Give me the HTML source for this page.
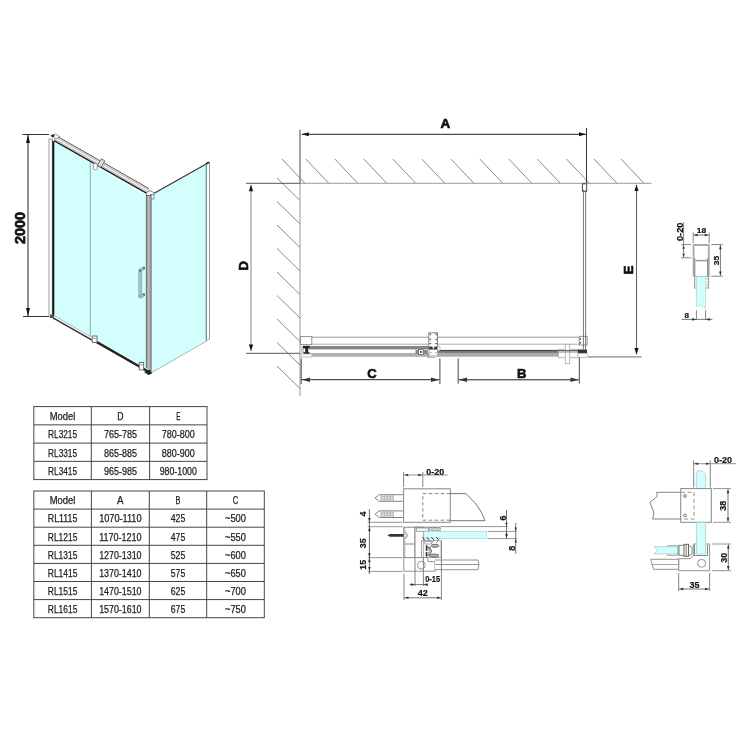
<!DOCTYPE html>
<html><head><meta charset="utf-8"><style>
html,body{margin:0;padding:0;background:#fff;width:750px;height:750px;overflow:hidden}
svg{display:block;will-change:transform}
</style></head><body>
<svg width="750" height="750" viewBox="0 0 750 750">
<rect width="750" height="750" fill="#fff"/>
<line x1="22.5" y1="134.5" x2="49" y2="134.5" stroke="#333" stroke-width="1" />
<line x1="23" y1="316.5" x2="50" y2="316.5" stroke="#333" stroke-width="1" />
<line x1="28" y1="135" x2="28" y2="316" stroke="#222" stroke-width="1" />
<path d="M28.00,135.00 L30.00,143.00 L26.00,143.00 Z" fill="#111"/>
<path d="M28.00,316.00 L26.00,308.00 L30.00,308.00 Z" fill="#111"/>
<text x="19.5" y="228" font-family="Liberation Sans" font-size="15" font-weight="bold" text-anchor="middle" dominant-baseline="central" fill="#111" stroke="#111" stroke-width="0.75" transform="rotate(-90 19.5 228)" textLength="32" lengthAdjust="spacingAndGlyphs">2000</text>
<polygon points="53,139 148,194 148,371 53,315.5" fill="#d2fefe"/>
<polygon points="151,195 207,163.2 207,340 151,373" fill="#d2fefe"/>
<line x1="152" y1="194.6" x2="207.5" y2="163.2" stroke="#333" stroke-width="1.1" />
<line x1="151" y1="373" x2="207" y2="340.8" stroke="#8aa" stroke-width="0.8" />
<rect x="206.3" y="162.5" width="3.2" height="178" fill="#fff"/>
<line x1="206.3" y1="163" x2="206.3" y2="340.6" stroke="#6a8c8c" stroke-width="1.2" />
<line x1="209.5" y1="162.5" x2="209.5" y2="339.2" stroke="#999" stroke-width="1" />
<line x1="206.3" y1="340.6" x2="209.7" y2="339" stroke="#999" stroke-width="0.9" />
<polygon points="205.5,163.2 208.2,161.5 210,162.6 207.3,164.5" fill="#333"/>
<rect x="49" y="139" width="3.2" height="177.5" fill="#fff" stroke="#888" stroke-width="0.8"/>
<line x1="53.3" y1="137.5" x2="53.3" y2="317" stroke="#111" stroke-width="2" />
<line x1="90.3" y1="161" x2="90.3" y2="338" stroke="#8ab0b0" stroke-width="1" />
<polygon points="51,135.5 54.5,133.5 153.5,189.8 152,196 146,195.5 53,141" fill="#fff"/>
<line x1="54" y1="134.47" x2="149" y2="188.62" stroke="#555" stroke-width="1.0" />
<line x1="54" y1="136.17" x2="149" y2="190.32" stroke="#c4c4c4" stroke-width="1.4" />
<line x1="54" y1="138.77" x2="149" y2="192.92" stroke="#999" stroke-width="0.8" />
<line x1="54" y1="140.57" x2="149" y2="194.72" stroke="#222" stroke-width="1.5" />
<polygon points="52,136 55.5,134 59.5,136.5 56,139" fill="#fff" stroke="#666" stroke-width="0.7"/>
<polygon points="50.5,135.8 52.8,134.2 55,135.8 52.8,137.6" fill="#222"/>
<polygon points="146,193 150,190.5 154.5,193 152,196.5 147,196" fill="#fff" stroke="#555" stroke-width="0.7"/>
<rect x="150.6" y="194.5" width="3.3" height="4.5" fill="#fff" stroke="#666" stroke-width="0.7"/>
<polygon points="101.06,167.39 104.82,160.79 101.34,158.81 97.58,165.41" fill="#f4f4f4" stroke="#555" stroke-width="0.8"/>
<line x1="99.5" y1="166.5" x2="103" y2="160" stroke="#aaa" stroke-width="0.8" />
<rect x="93.4" y="163.5" width="3.8" height="6.3" rx="1" fill="#fff" stroke="#777" stroke-width="0.7"/>
<rect x="146.3" y="195.5" width="4.8" height="177" fill="#aaa" stroke="#555" stroke-width="0.8"/>
<line x1="148.7" y1="196" x2="148.7" y2="372" stroke="#bbb" stroke-width="1" />
<rect x="138.8" y="269" width="2.8" height="28.6" rx="1" fill="#a9c8c8" stroke="#7d9d9d" stroke-width="0.7"/>
<polygon points="139,270.2 143.3,267 145,268.6 140.8,271.8" fill="#a9c8c8" stroke="#6d8d8d" stroke-width="0.7"/>
<polygon points="139,296.6 143.3,293.6 145,295.2 140.8,298.2" fill="#a9c8c8" stroke="#6d8d8d" stroke-width="0.7"/>
<circle cx="144" cy="267.9" r="1" fill="#555"/>
<circle cx="144" cy="294.5" r="1" fill="#555"/>
<circle cx="140" cy="270.8" r="0.9" fill="#555"/>
<polygon points="53,315 92,337.2 92,340.5 53,318.3" fill="#fff"/>
<line x1="53.5" y1="315.3" x2="91" y2="337" stroke="#9aa" stroke-width="0.8" />
<line x1="53" y1="317.9" x2="92" y2="340.1" stroke="#333" stroke-width="1.6" />
<rect x="50" y="314.5" width="4" height="3.5" fill="#555"/>
<polygon points="96,339.5 149,369.8 149,373.5 96,343" fill="#fff"/>
<line x1="96" y1="341.6" x2="149" y2="372" stroke="#222" stroke-width="2.4" />
<polygon points="144,372 149.5,369.5 152,373.5 148.5,375" fill="#222"/>
<rect x="92.2" y="336" width="4.8" height="6.5" fill="#fff" stroke="#555" stroke-width="0.8"/>
<line x1="92.5" y1="338.2" x2="96.8" y2="338.2" stroke="#777" stroke-width="0.7" />
<rect x="139.2" y="362.5" width="4.5" height="7.4" fill="#fff" stroke="#555" stroke-width="0.8"/>
<line x1="139.5" y1="364.8" x2="143.5" y2="364.8" stroke="#777" stroke-width="0.7" />
<line x1="300" y1="183.3" x2="651.5" y2="183.3" stroke="#b0b0b0" stroke-width="1.2" />
<line x1="300" y1="130" x2="300" y2="396" stroke="#aaa" stroke-width="1.2" />
<line x1="282" y1="159" x2="305" y2="183.3" stroke="#8a8a8a" stroke-width="1" />
<line x1="305.8" y1="159" x2="328.8" y2="183.3" stroke="#8a8a8a" stroke-width="1" />
<line x1="334.8" y1="159" x2="357.8" y2="183.3" stroke="#8a8a8a" stroke-width="1" />
<line x1="363.8" y1="159" x2="386.8" y2="183.3" stroke="#8a8a8a" stroke-width="1" />
<line x1="392.8" y1="159" x2="415.8" y2="183.3" stroke="#8a8a8a" stroke-width="1" />
<line x1="421.8" y1="159" x2="444.8" y2="183.3" stroke="#8a8a8a" stroke-width="1" />
<line x1="450.9" y1="159" x2="473.9" y2="183.3" stroke="#8a8a8a" stroke-width="1" />
<line x1="479.8" y1="159" x2="502.8" y2="183.3" stroke="#8a8a8a" stroke-width="1" />
<line x1="508.8" y1="159" x2="531.8" y2="183.3" stroke="#8a8a8a" stroke-width="1" />
<line x1="537.3" y1="159" x2="560.3" y2="183.3" stroke="#8a8a8a" stroke-width="1" />
<line x1="566.5" y1="159" x2="589.5" y2="183.3" stroke="#8a8a8a" stroke-width="1" />
<line x1="594" y1="159" x2="617" y2="183.3" stroke="#8a8a8a" stroke-width="1" />
<line x1="621" y1="159" x2="644" y2="183.3" stroke="#8a8a8a" stroke-width="1" />
<line x1="277" y1="178" x2="300" y2="200.5" stroke="#8a8a8a" stroke-width="1" />
<line x1="277" y1="201.5" x2="300" y2="224.0" stroke="#8a8a8a" stroke-width="1" />
<line x1="277" y1="225" x2="300" y2="247.5" stroke="#8a8a8a" stroke-width="1" />
<line x1="277" y1="248.5" x2="300" y2="271.0" stroke="#8a8a8a" stroke-width="1" />
<line x1="277" y1="272" x2="300" y2="294.5" stroke="#8a8a8a" stroke-width="1" />
<line x1="277" y1="295.5" x2="300" y2="318.0" stroke="#8a8a8a" stroke-width="1" />
<line x1="277" y1="319" x2="300" y2="341.5" stroke="#8a8a8a" stroke-width="1" />
<line x1="277" y1="342.5" x2="300" y2="365.0" stroke="#8a8a8a" stroke-width="1" />
<line x1="277" y1="366" x2="300" y2="388.5" stroke="#8a8a8a" stroke-width="1" />
<line x1="300" y1="129.5" x2="300" y2="183" stroke="#8a8a8a" stroke-width="1.3" />
<line x1="586.5" y1="128" x2="586.5" y2="183" stroke="#333" stroke-width="1" />
<line x1="301.8" y1="134.3" x2="586" y2="134.3" stroke="#222" stroke-width="1" />
<path d="M301.80,134.30 L308.80,132.30 L308.80,136.30 Z" fill="#111"/>
<path d="M586.00,134.30 L579.00,136.30 L579.00,132.30 Z" fill="#111"/>
<text x="445.3" y="123.8" font-family="Liberation Sans" font-size="13.5" font-weight="bold" text-anchor="middle" dominant-baseline="central" fill="#111" stroke="#111" stroke-width="0.68">A</text>
<line x1="246" y1="183.3" x2="300" y2="183.3" stroke="#555" stroke-width="1" />
<line x1="246" y1="353.3" x2="300" y2="353.3" stroke="#555" stroke-width="1" />
<line x1="251" y1="184.8" x2="251" y2="351" stroke="#999" stroke-width="1.2" />
<path d="M251.00,184.80 L253.10,191.30 L248.90,191.30 Z" fill="#111"/>
<path d="M251.00,351.00 L248.90,344.50 L253.10,344.50 Z" fill="#111"/>
<text x="243.2" y="265.8" font-family="Liberation Sans" font-size="13" font-weight="bold" text-anchor="middle" dominant-baseline="central" fill="#111" stroke="#111" stroke-width="0.65" transform="rotate(-90 243.2 265.8)">D</text>
<line x1="588" y1="356.8" x2="641.6" y2="356.8" stroke="#888" stroke-width="1.2" />
<line x1="636.5" y1="184.8" x2="636.5" y2="354.4" stroke="#666" stroke-width="1.1" />
<path d="M636.50,184.80 L638.60,191.10 L634.40,191.10 Z" fill="#111"/>
<path d="M636.50,354.40 L634.40,348.10 L638.60,348.10 Z" fill="#111"/>
<text x="628.4" y="269.8" font-family="Liberation Sans" font-size="13" font-weight="bold" text-anchor="middle" dominant-baseline="central" fill="#111" stroke="#111" stroke-width="0.65" transform="rotate(-90 628.4 269.8)">E</text>
<rect x="582.4" y="183.8" width="4.3" height="7.5" fill="#fff" stroke="#333" stroke-width="0.9"/>
<line x1="311" y1="337.2" x2="579.5" y2="337.2" stroke="#999" stroke-width="1" />
<line x1="311" y1="344.2" x2="579.5" y2="344.2" stroke="#aaa" stroke-width="1" />
<rect x="300.5" y="336.6" width="11.3" height="8" fill="#fff" stroke="#888" stroke-width="0.9"/>
<rect x="579.3" y="336.3" width="7.8" height="8.7" fill="#fff" stroke="#888" stroke-width="0.9"/>
<rect x="579.6" y="338" width="1.4" height="1.6" fill="#555"/>
<rect x="579.6" y="342" width="1.4" height="1.6" fill="#555"/>
<rect x="309" y="346" width="120" height="3.4" fill="#858585"/>
<rect x="309" y="353" width="120" height="3.8" fill="#b0b0b0"/>
<rect x="437" y="350.6" width="142" height="6.1" fill="#aaa"/>
<rect x="437" y="351" width="142" height="1.8" fill="#777"/>
<line x1="437" y1="350.4" x2="579" y2="350.4" stroke="#333" stroke-width="1" />
<rect x="301" y="346" width="3" height="7" fill="#ccc"/>
<rect x="303" y="345.8" width="6.5" height="2.6" fill="#222"/>
<rect x="305.2" y="348" width="3" height="5.5" fill="#222"/>
<rect x="303.5" y="352.2" width="6" height="1.8" fill="#222"/>
<rect x="301" y="354" width="11" height="3" fill="#fff" stroke="#aaa" stroke-width="0.8"/>
<rect x="428.8" y="332.8" width="8.8" height="16" fill="#fff" stroke="#777" stroke-width="0.9"/>
<path d="M429.0,333.8 L431.4,333.8 L430.2,335.6 Z" fill="#555"/>
<path d="M435.0,333.8 L437.4,333.8 L436.2,335.6 Z" fill="#555"/>
<path d="M429.0,338.7 L431.4,338.7 L430.2,340.5 Z" fill="#555"/>
<path d="M435.0,338.7 L437.4,338.7 L436.2,340.5 Z" fill="#555"/>
<path d="M429.0,343.0 L431.4,343.0 L430.2,344.8 Z" fill="#555"/>
<path d="M435.0,343.0 L437.4,343.0 L436.2,344.8 Z" fill="#555"/>
<rect x="429.2" y="346.6" width="3.4" height="3" fill="#333"/>
<rect x="434.2" y="346.6" width="3.4" height="3" fill="#333"/>
<rect x="429" y="349.5" width="8.8" height="6.5" fill="#fff" stroke="#888" stroke-width="0.8"/>
<rect x="430.3" y="352" width="1.2" height="1.2" fill="#999"/>
<rect x="435.2" y="352" width="1.2" height="1.2" fill="#999"/>
<path d="M427.5,350 L427.5,357.5 L435,357.5" fill="none" stroke="#999" stroke-width="0.8"/>
<rect x="437.5" y="346.6" width="2.5" height="4" fill="#fff" stroke="#999" stroke-width="0.6"/>
<rect x="415.5" y="350" width="12" height="4" fill="#888"/>
<rect x="418.5" y="349.6" width="4.6" height="4.8" fill="#fff" stroke="#666" stroke-width="0.8"/>
<rect x="420" y="351.2" width="1.6" height="1.6" fill="#222"/>
<rect x="558.3" y="349.3" width="19.7" height="8.4" fill="#fff" stroke="#aaa" stroke-width="0.8"/>
<rect x="565.3" y="344.3" width="4.4" height="19.4" fill="#fff" stroke="#aaa" stroke-width="0.8"/>
<line x1="558.3" y1="350.6" x2="578" y2="350.6" stroke="#555" stroke-width="1" />
<line x1="558.3" y1="352" x2="578" y2="352" stroke="#888" stroke-width="1" />
<line x1="583.4" y1="190" x2="583.4" y2="349" stroke="#666" stroke-width="0.9" />
<line x1="585.6" y1="190" x2="585.6" y2="349" stroke="#666" stroke-width="0.9" />
<rect x="578" y="349.5" width="9" height="3.8" fill="#333"/>
<rect x="578" y="353.3" width="9" height="4" fill="#fff" stroke="#aaa" stroke-width="0.7"/>
<line x1="301.2" y1="358.5" x2="301.2" y2="384" stroke="#444" stroke-width="1" />
<line x1="439.9" y1="358.5" x2="439.9" y2="384" stroke="#444" stroke-width="1" />
<line x1="302" y1="379.7" x2="439" y2="379.7" stroke="#222" stroke-width="1" />
<path d="M302.00,379.70 L310.00,377.50 L310.00,381.90 Z" fill="#333"/>
<path d="M439.00,379.70 L431.00,381.90 L431.00,377.50 Z" fill="#333"/>
<text x="372" y="373.2" font-family="Liberation Sans" font-size="13" font-weight="bold" text-anchor="middle" dominant-baseline="central" fill="#111" stroke="#111" stroke-width="0.65">C</text>
<line x1="458.2" y1="358.5" x2="458.2" y2="383.6" stroke="#444" stroke-width="1" />
<line x1="579.3" y1="357.5" x2="579.3" y2="383.6" stroke="#444" stroke-width="1" />
<line x1="459" y1="379.8" x2="578.5" y2="379.8" stroke="#222" stroke-width="1" />
<path d="M459.00,379.80 L467.00,377.60 L467.00,382.00 Z" fill="#333"/>
<path d="M578.50,379.80 L570.50,382.00 L570.50,377.60 Z" fill="#333"/>
<text x="521.7" y="373" font-family="Liberation Sans" font-size="13" font-weight="bold" text-anchor="middle" dominant-baseline="central" fill="#111" stroke="#111" stroke-width="0.65">B</text>
<path d="M693.6,276.5 L693.6,245 L708.8,245 L708.8,276.5" fill="none" stroke="#aaa" stroke-width="1.8"/>
<line x1="694.8" y1="258" x2="694.8" y2="276" stroke="#777" stroke-width="0.9" />
<line x1="707.6" y1="258" x2="707.6" y2="276" stroke="#777" stroke-width="0.9" />
<line x1="695.5" y1="260.6" x2="707" y2="260.6" stroke="#999" stroke-width="1.5" />
<rect x="694.6" y="276.4" width="14" height="11.6" fill="#fff" stroke="#999" stroke-width="1"/>
<line x1="695.5" y1="279" x2="697" y2="279" stroke="#aaa" stroke-width="1" />
<line x1="706.5" y1="279" x2="708" y2="279" stroke="#aaa" stroke-width="1" />
<line x1="695.5" y1="282" x2="697" y2="282" stroke="#aaa" stroke-width="1" />
<line x1="706.5" y1="282" x2="708" y2="282" stroke="#aaa" stroke-width="1" />
<line x1="695.5" y1="285" x2="697" y2="285" stroke="#aaa" stroke-width="1" />
<line x1="706.5" y1="285" x2="708" y2="285" stroke="#aaa" stroke-width="1" />
<polygon points="696.4,276.6 705.6,276.6 705.6,308.2 700.2,304.9 696.4,306.6" fill="#d2fefe" stroke="#a0cccc" stroke-width="0.6"/>
<line x1="693.2" y1="232.5" x2="693.2" y2="243.2" stroke="#777" stroke-width="0.9" />
<line x1="709.2" y1="232.5" x2="709.2" y2="243.2" stroke="#777" stroke-width="0.9" />
<line x1="693.7" y1="235" x2="708.7" y2="235" stroke="#666" stroke-width="0.9" />
<path d="M693.70,235.00 L697.70,233.70 L697.70,236.30 Z" fill="#333"/>
<path d="M708.70,235.00 L704.70,236.30 L704.70,233.70 Z" fill="#333"/>
<text x="701.6" y="230.6" font-family="Liberation Sans" font-size="8" font-weight="bold" text-anchor="middle" dominant-baseline="central" fill="#111" stroke="#111" stroke-width="0.16" textLength="9.5" lengthAdjust="spacingAndGlyphs">18</text>
<line x1="711.2" y1="244.6" x2="722.8" y2="244.6" stroke="#777" stroke-width="0.9" />
<line x1="711.2" y1="276.2" x2="722.8" y2="276.2" stroke="#777" stroke-width="0.9" />
<line x1="720.4" y1="245.2" x2="720.4" y2="275.6" stroke="#666" stroke-width="0.9" />
<path d="M720.40,245.20 L721.70,249.20 L719.10,249.20 Z" fill="#333"/>
<path d="M720.40,275.60 L719.10,271.60 L721.70,271.60 Z" fill="#333"/>
<text x="716.4" y="260.6" font-family="Liberation Sans" font-size="8" font-weight="bold" text-anchor="middle" dominant-baseline="central" fill="#111" stroke="#111" stroke-width="0.16" transform="rotate(-90 716.4 260.6)" textLength="9.5" lengthAdjust="spacingAndGlyphs">35</text>
<line x1="681.2" y1="244.6" x2="691.2" y2="244.6" stroke="#777" stroke-width="0.9" />
<line x1="681.2" y1="257.8" x2="691.2" y2="257.8" stroke="#777" stroke-width="0.9" />
<line x1="683.6" y1="222.2" x2="683.6" y2="257.4" stroke="#777" stroke-width="0.9" />
<path d="M683.60,245.20 L684.80,248.70 L682.40,248.70 Z" fill="#333"/>
<path d="M683.60,257.20 L682.40,253.70 L684.80,253.70 Z" fill="#333"/>
<text x="680" y="231.8" font-family="Liberation Sans" font-size="8.3" font-weight="bold" text-anchor="middle" dominant-baseline="central" fill="#111" stroke="#111" stroke-width="0.17" transform="rotate(-90 680 231.8)" textLength="18.5" lengthAdjust="spacingAndGlyphs">0-20</text>
<line x1="696.4" y1="310.2" x2="696.4" y2="320.2" stroke="#777" stroke-width="0.9" />
<line x1="705.6" y1="310.2" x2="705.6" y2="320.2" stroke="#777" stroke-width="0.9" />
<line x1="681.6" y1="319.4" x2="712.4" y2="319.4" stroke="#666" stroke-width="0.9" />
<path d="M696.20,319.40 L692.20,320.70 L692.20,318.10 Z" fill="#333"/>
<path d="M705.80,319.40 L709.80,318.10 L709.80,320.70 Z" fill="#333"/>
<text x="686.8" y="315.4" font-family="Liberation Sans" font-size="8" font-weight="bold" text-anchor="middle" dominant-baseline="central" fill="#111" stroke="#111" stroke-width="0.16" textLength="4.5" lengthAdjust="spacingAndGlyphs">8</text>
<rect x="33.8" y="406.6" width="173.2" height="73.0" fill="none" stroke="#444" stroke-width="1"/>
<line x1="91.3" y1="406.6" x2="91.3" y2="479.6" stroke="#444" stroke-width="1" />
<line x1="149.6" y1="406.6" x2="149.6" y2="479.6" stroke="#444" stroke-width="1" />
<line x1="33.8" y1="424.85" x2="207" y2="424.85" stroke="#444" stroke-width="1" />
<line x1="33.8" y1="443.1" x2="207" y2="443.1" stroke="#444" stroke-width="1" />
<line x1="33.8" y1="461.35" x2="207" y2="461.35" stroke="#444" stroke-width="1" />
<text x="62.55" y="416.52500000000003" font-family="Liberation Sans" font-size="10" font-weight="normal" text-anchor="middle" dominant-baseline="central" fill="#222" stroke="#222" stroke-width="0.25" textLength="25.6" lengthAdjust="spacingAndGlyphs">Model</text>
<text x="120.44999999999999" y="416.52500000000003" font-family="Liberation Sans" font-size="10" font-weight="normal" text-anchor="middle" dominant-baseline="central" fill="#222" stroke="#222" stroke-width="0.25" textLength="6.3" lengthAdjust="spacingAndGlyphs">D</text>
<text x="178.3" y="416.52500000000003" font-family="Liberation Sans" font-size="10" font-weight="normal" text-anchor="middle" dominant-baseline="central" fill="#222" stroke="#222" stroke-width="0.25" textLength="4.2" lengthAdjust="spacingAndGlyphs">E</text>
<text x="62.55" y="434.77500000000003" font-family="Liberation Sans" font-size="10" font-weight="normal" text-anchor="middle" dominant-baseline="central" fill="#222" stroke="#222" stroke-width="0.25" textLength="28.9" lengthAdjust="spacingAndGlyphs">RL3215</text>
<text x="120.44999999999999" y="434.77500000000003" font-family="Liberation Sans" font-size="10" font-weight="normal" text-anchor="middle" dominant-baseline="central" fill="#222" stroke="#222" stroke-width="0.25" textLength="33" lengthAdjust="spacingAndGlyphs">765-785</text>
<text x="178.3" y="434.77500000000003" font-family="Liberation Sans" font-size="10" font-weight="normal" text-anchor="middle" dominant-baseline="central" fill="#222" stroke="#222" stroke-width="0.25" textLength="33" lengthAdjust="spacingAndGlyphs">780-800</text>
<text x="62.55" y="453.02500000000003" font-family="Liberation Sans" font-size="10" font-weight="normal" text-anchor="middle" dominant-baseline="central" fill="#222" stroke="#222" stroke-width="0.25" textLength="28.9" lengthAdjust="spacingAndGlyphs">RL3315</text>
<text x="120.44999999999999" y="453.02500000000003" font-family="Liberation Sans" font-size="10" font-weight="normal" text-anchor="middle" dominant-baseline="central" fill="#222" stroke="#222" stroke-width="0.25" textLength="33" lengthAdjust="spacingAndGlyphs">865-885</text>
<text x="178.3" y="453.02500000000003" font-family="Liberation Sans" font-size="10" font-weight="normal" text-anchor="middle" dominant-baseline="central" fill="#222" stroke="#222" stroke-width="0.25" textLength="33" lengthAdjust="spacingAndGlyphs">880-900</text>
<text x="62.55" y="471.27500000000003" font-family="Liberation Sans" font-size="10" font-weight="normal" text-anchor="middle" dominant-baseline="central" fill="#222" stroke="#222" stroke-width="0.25" textLength="28.9" lengthAdjust="spacingAndGlyphs">RL3415</text>
<text x="120.44999999999999" y="471.27500000000003" font-family="Liberation Sans" font-size="10" font-weight="normal" text-anchor="middle" dominant-baseline="central" fill="#222" stroke="#222" stroke-width="0.25" textLength="33" lengthAdjust="spacingAndGlyphs">965-985</text>
<text x="178.3" y="471.27500000000003" font-family="Liberation Sans" font-size="10" font-weight="normal" text-anchor="middle" dominant-baseline="central" fill="#222" stroke="#222" stroke-width="0.25" textLength="37.2" lengthAdjust="spacingAndGlyphs">980-1000</text>
<rect x="33.8" y="491" width="230.5" height="126.70000000000005" fill="none" stroke="#444" stroke-width="1"/>
<line x1="91.4" y1="491" x2="91.4" y2="617.7" stroke="#444" stroke-width="1" />
<line x1="149.3" y1="491" x2="149.3" y2="617.7" stroke="#444" stroke-width="1" />
<line x1="206.7" y1="491" x2="206.7" y2="617.7" stroke="#444" stroke-width="1" />
<line x1="33.8" y1="509.1" x2="264.3" y2="509.1" stroke="#444" stroke-width="1" />
<line x1="33.8" y1="527.2" x2="264.3" y2="527.2" stroke="#444" stroke-width="1" />
<line x1="33.8" y1="545.3" x2="264.3" y2="545.3" stroke="#444" stroke-width="1" />
<line x1="33.8" y1="563.4" x2="264.3" y2="563.4" stroke="#444" stroke-width="1" />
<line x1="33.8" y1="581.5" x2="264.3" y2="581.5" stroke="#444" stroke-width="1" />
<line x1="33.8" y1="599.6" x2="264.3" y2="599.6" stroke="#444" stroke-width="1" />
<text x="62.6" y="500.85" font-family="Liberation Sans" font-size="10" font-weight="normal" text-anchor="middle" dominant-baseline="central" fill="#222" stroke="#222" stroke-width="0.25" textLength="25.6" lengthAdjust="spacingAndGlyphs">Model</text>
<text x="120.35000000000001" y="500.85" font-family="Liberation Sans" font-size="10" font-weight="normal" text-anchor="middle" dominant-baseline="central" fill="#222" stroke="#222" stroke-width="0.25" textLength="6.5" lengthAdjust="spacingAndGlyphs">A</text>
<text x="178.0" y="500.85" font-family="Liberation Sans" font-size="10" font-weight="normal" text-anchor="middle" dominant-baseline="central" fill="#222" stroke="#222" stroke-width="0.25" textLength="4.8" lengthAdjust="spacingAndGlyphs">B</text>
<text x="235.5" y="500.85" font-family="Liberation Sans" font-size="10" font-weight="normal" text-anchor="middle" dominant-baseline="central" fill="#222" stroke="#222" stroke-width="0.25" textLength="5.5" lengthAdjust="spacingAndGlyphs">C</text>
<text x="62.6" y="518.9499999999999" font-family="Liberation Sans" font-size="10" font-weight="normal" text-anchor="middle" dominant-baseline="central" fill="#222" stroke="#222" stroke-width="0.25" textLength="29.6" lengthAdjust="spacingAndGlyphs">RL1115</text>
<text x="120.35000000000001" y="518.9499999999999" font-family="Liberation Sans" font-size="10" font-weight="normal" text-anchor="middle" dominant-baseline="central" fill="#222" stroke="#222" stroke-width="0.25" textLength="42.4" lengthAdjust="spacingAndGlyphs">1070-1110</text>
<text x="178.0" y="518.9499999999999" font-family="Liberation Sans" font-size="10" font-weight="normal" text-anchor="middle" dominant-baseline="central" fill="#222" stroke="#222" stroke-width="0.25" textLength="14.5" lengthAdjust="spacingAndGlyphs">425</text>
<text x="235.5" y="518.9499999999999" font-family="Liberation Sans" font-size="10" font-weight="normal" text-anchor="middle" dominant-baseline="central" fill="#222" stroke="#222" stroke-width="0.25" textLength="20.9" lengthAdjust="spacingAndGlyphs">~500</text>
<text x="62.6" y="537.05" font-family="Liberation Sans" font-size="10" font-weight="normal" text-anchor="middle" dominant-baseline="central" fill="#222" stroke="#222" stroke-width="0.25" textLength="29.6" lengthAdjust="spacingAndGlyphs">RL1215</text>
<text x="120.35000000000001" y="537.05" font-family="Liberation Sans" font-size="10" font-weight="normal" text-anchor="middle" dominant-baseline="central" fill="#222" stroke="#222" stroke-width="0.25" textLength="42.4" lengthAdjust="spacingAndGlyphs">1170-1210</text>
<text x="178.0" y="537.05" font-family="Liberation Sans" font-size="10" font-weight="normal" text-anchor="middle" dominant-baseline="central" fill="#222" stroke="#222" stroke-width="0.25" textLength="14.5" lengthAdjust="spacingAndGlyphs">475</text>
<text x="235.5" y="537.05" font-family="Liberation Sans" font-size="10" font-weight="normal" text-anchor="middle" dominant-baseline="central" fill="#222" stroke="#222" stroke-width="0.25" textLength="20.9" lengthAdjust="spacingAndGlyphs">~550</text>
<text x="62.6" y="555.1499999999999" font-family="Liberation Sans" font-size="10" font-weight="normal" text-anchor="middle" dominant-baseline="central" fill="#222" stroke="#222" stroke-width="0.25" textLength="29.6" lengthAdjust="spacingAndGlyphs">RL1315</text>
<text x="120.35000000000001" y="555.1499999999999" font-family="Liberation Sans" font-size="10" font-weight="normal" text-anchor="middle" dominant-baseline="central" fill="#222" stroke="#222" stroke-width="0.25" textLength="42.4" lengthAdjust="spacingAndGlyphs">1270-1310</text>
<text x="178.0" y="555.1499999999999" font-family="Liberation Sans" font-size="10" font-weight="normal" text-anchor="middle" dominant-baseline="central" fill="#222" stroke="#222" stroke-width="0.25" textLength="14.5" lengthAdjust="spacingAndGlyphs">525</text>
<text x="235.5" y="555.1499999999999" font-family="Liberation Sans" font-size="10" font-weight="normal" text-anchor="middle" dominant-baseline="central" fill="#222" stroke="#222" stroke-width="0.25" textLength="20.9" lengthAdjust="spacingAndGlyphs">~600</text>
<text x="62.6" y="573.2499999999999" font-family="Liberation Sans" font-size="10" font-weight="normal" text-anchor="middle" dominant-baseline="central" fill="#222" stroke="#222" stroke-width="0.25" textLength="29.6" lengthAdjust="spacingAndGlyphs">RL1415</text>
<text x="120.35000000000001" y="573.2499999999999" font-family="Liberation Sans" font-size="10" font-weight="normal" text-anchor="middle" dominant-baseline="central" fill="#222" stroke="#222" stroke-width="0.25" textLength="42.4" lengthAdjust="spacingAndGlyphs">1370-1410</text>
<text x="178.0" y="573.2499999999999" font-family="Liberation Sans" font-size="10" font-weight="normal" text-anchor="middle" dominant-baseline="central" fill="#222" stroke="#222" stroke-width="0.25" textLength="14.5" lengthAdjust="spacingAndGlyphs">575</text>
<text x="235.5" y="573.2499999999999" font-family="Liberation Sans" font-size="10" font-weight="normal" text-anchor="middle" dominant-baseline="central" fill="#222" stroke="#222" stroke-width="0.25" textLength="20.9" lengthAdjust="spacingAndGlyphs">~650</text>
<text x="62.6" y="591.3499999999999" font-family="Liberation Sans" font-size="10" font-weight="normal" text-anchor="middle" dominant-baseline="central" fill="#222" stroke="#222" stroke-width="0.25" textLength="29.6" lengthAdjust="spacingAndGlyphs">RL1515</text>
<text x="120.35000000000001" y="591.3499999999999" font-family="Liberation Sans" font-size="10" font-weight="normal" text-anchor="middle" dominant-baseline="central" fill="#222" stroke="#222" stroke-width="0.25" textLength="42.4" lengthAdjust="spacingAndGlyphs">1470-1510</text>
<text x="178.0" y="591.3499999999999" font-family="Liberation Sans" font-size="10" font-weight="normal" text-anchor="middle" dominant-baseline="central" fill="#222" stroke="#222" stroke-width="0.25" textLength="14.5" lengthAdjust="spacingAndGlyphs">625</text>
<text x="235.5" y="591.3499999999999" font-family="Liberation Sans" font-size="10" font-weight="normal" text-anchor="middle" dominant-baseline="central" fill="#222" stroke="#222" stroke-width="0.25" textLength="20.9" lengthAdjust="spacingAndGlyphs">~700</text>
<text x="62.6" y="609.4499999999999" font-family="Liberation Sans" font-size="10" font-weight="normal" text-anchor="middle" dominant-baseline="central" fill="#222" stroke="#222" stroke-width="0.25" textLength="29.6" lengthAdjust="spacingAndGlyphs">RL1615</text>
<text x="120.35000000000001" y="609.4499999999999" font-family="Liberation Sans" font-size="10" font-weight="normal" text-anchor="middle" dominant-baseline="central" fill="#222" stroke="#222" stroke-width="0.25" textLength="42.4" lengthAdjust="spacingAndGlyphs">1570-1610</text>
<text x="178.0" y="609.4499999999999" font-family="Liberation Sans" font-size="10" font-weight="normal" text-anchor="middle" dominant-baseline="central" fill="#222" stroke="#222" stroke-width="0.25" textLength="14.5" lengthAdjust="spacingAndGlyphs">675</text>
<text x="235.5" y="609.4499999999999" font-family="Liberation Sans" font-size="10" font-weight="normal" text-anchor="middle" dominant-baseline="central" fill="#222" stroke="#222" stroke-width="0.25" textLength="20.9" lengthAdjust="spacingAndGlyphs">~750</text>
<path d="M403.6,494.7 L379.3,494.7 L375,498 L379.3,501.3 L403.6,501.3" fill="#fff" stroke="#777" stroke-width="0.9"/>
<line x1="381.2" y1="495.2" x2="381.2" y2="500.8" stroke="#888" stroke-width="0.8" />
<line x1="384.2" y1="495.2" x2="384.2" y2="500.8" stroke="#888" stroke-width="0.8" />
<line x1="387.2" y1="495.2" x2="387.2" y2="500.8" stroke="#888" stroke-width="0.8" />
<line x1="390.2" y1="495.2" x2="390.2" y2="500.8" stroke="#888" stroke-width="0.8" />
<line x1="393.2" y1="495.2" x2="393.2" y2="500.8" stroke="#888" stroke-width="0.8" />
<circle cx="382.7" cy="496.7" r="0.7" fill="none" stroke="#999" stroke-width="0.5"/>
<circle cx="382.7" cy="499.3" r="0.7" fill="none" stroke="#999" stroke-width="0.5"/>
<circle cx="385.7" cy="496.7" r="0.7" fill="none" stroke="#999" stroke-width="0.5"/>
<circle cx="385.7" cy="499.3" r="0.7" fill="none" stroke="#999" stroke-width="0.5"/>
<circle cx="388.7" cy="496.7" r="0.7" fill="none" stroke="#999" stroke-width="0.5"/>
<circle cx="388.7" cy="499.3" r="0.7" fill="none" stroke="#999" stroke-width="0.5"/>
<circle cx="391.7" cy="496.7" r="0.7" fill="none" stroke="#999" stroke-width="0.5"/>
<circle cx="391.7" cy="499.3" r="0.7" fill="none" stroke="#999" stroke-width="0.5"/>
<path d="M403.6,510.90000000000003 L379.3,510.90000000000003 L375,514.2 L379.3,517.5 L403.6,517.5" fill="#fff" stroke="#777" stroke-width="0.9"/>
<line x1="381.2" y1="511.40000000000003" x2="381.2" y2="517.0" stroke="#888" stroke-width="0.8" />
<line x1="384.2" y1="511.40000000000003" x2="384.2" y2="517.0" stroke="#888" stroke-width="0.8" />
<line x1="387.2" y1="511.40000000000003" x2="387.2" y2="517.0" stroke="#888" stroke-width="0.8" />
<line x1="390.2" y1="511.40000000000003" x2="390.2" y2="517.0" stroke="#888" stroke-width="0.8" />
<line x1="393.2" y1="511.40000000000003" x2="393.2" y2="517.0" stroke="#888" stroke-width="0.8" />
<circle cx="382.7" cy="512.9000000000001" r="0.7" fill="none" stroke="#999" stroke-width="0.5"/>
<circle cx="382.7" cy="515.5" r="0.7" fill="none" stroke="#999" stroke-width="0.5"/>
<circle cx="385.7" cy="512.9000000000001" r="0.7" fill="none" stroke="#999" stroke-width="0.5"/>
<circle cx="385.7" cy="515.5" r="0.7" fill="none" stroke="#999" stroke-width="0.5"/>
<circle cx="388.7" cy="512.9000000000001" r="0.7" fill="none" stroke="#999" stroke-width="0.5"/>
<circle cx="388.7" cy="515.5" r="0.7" fill="none" stroke="#999" stroke-width="0.5"/>
<circle cx="391.7" cy="512.9000000000001" r="0.7" fill="none" stroke="#999" stroke-width="0.5"/>
<circle cx="391.7" cy="515.5" r="0.7" fill="none" stroke="#999" stroke-width="0.5"/>
<rect x="403.6" y="488.8" width="46.7" height="33.5" fill="#fff" stroke="#888" stroke-width="1"/>
<path d="M450.3,493.6 L465.7,493.6 C474,501 481,509 485,520.7 L450.3,520.7" fill="none" stroke="#666" stroke-width="0.9"/>
<path d="M450.3,493.6 L422.8,493.6 L422.8,520.2 L450.3,520.2" fill="none" stroke="#777" stroke-width="0.9" stroke-dasharray="3.5,2.5"/>
<line x1="403.6" y1="472" x2="403.6" y2="487" stroke="#777" stroke-width="0.9" />
<line x1="422.8" y1="472" x2="422.8" y2="487" stroke="#777" stroke-width="0.9" />
<line x1="403.6" y1="475" x2="447.7" y2="475" stroke="#888" stroke-width="0.9" />
<path d="M404.20,475.00 L408.20,473.70 L408.20,476.30 Z" fill="#333"/>
<path d="M422.20,475.00 L418.20,476.30 L418.20,473.70 Z" fill="#333"/>
<text x="435.3" y="471.6" font-family="Liberation Sans" font-size="8.5" font-weight="bold" text-anchor="middle" dominant-baseline="central" fill="#111" stroke="#111" stroke-width="0.17" textLength="18" lengthAdjust="spacingAndGlyphs">0-20</text>
<line x1="367.6" y1="522.3" x2="402.5" y2="522.3" stroke="#888" stroke-width="0.9" />
<line x1="367.6" y1="526.7" x2="402.5" y2="526.7" stroke="#888" stroke-width="0.9" />
<line x1="367.6" y1="557.6" x2="402.5" y2="557.6" stroke="#888" stroke-width="0.9" />
<line x1="367.6" y1="571.4" x2="402.5" y2="571.4" stroke="#888" stroke-width="0.9" />
<line x1="369.4" y1="509.3" x2="369.4" y2="574" stroke="#555" stroke-width="0.9" />
<path d="M369.40,522.00 L368.10,518.00 L370.70,518.00 Z" fill="#333"/>
<path d="M369.40,527.00 L370.70,531.00 L368.10,531.00 Z" fill="#333"/>
<path d="M369.40,557.30 L368.10,553.30 L370.70,553.30 Z" fill="#333"/>
<path d="M369.40,557.90 L370.70,561.90 L368.10,561.90 Z" fill="#333"/>
<path d="M369.40,571.10 L368.10,567.10 L370.70,567.10 Z" fill="#333"/>
<text x="363.4" y="514" font-family="Liberation Sans" font-size="8.5" font-weight="bold" text-anchor="middle" dominant-baseline="central" fill="#111" stroke="#111" stroke-width="0.17" transform="rotate(-90 363.4 514)" textLength="5" lengthAdjust="spacingAndGlyphs">4</text>
<text x="363.4" y="543.2" font-family="Liberation Sans" font-size="8.5" font-weight="bold" text-anchor="middle" dominant-baseline="central" fill="#111" stroke="#111" stroke-width="0.17" transform="rotate(-90 363.4 543.2)" textLength="10" lengthAdjust="spacingAndGlyphs">35</text>
<text x="363.4" y="564.8" font-family="Liberation Sans" font-size="8.5" font-weight="bold" text-anchor="middle" dominant-baseline="central" fill="#111" stroke="#111" stroke-width="0.17" transform="rotate(-90 363.4 564.8)" textLength="10" lengthAdjust="spacingAndGlyphs">15</text>
<rect x="403.8" y="527.2" width="11.2" height="30.4" fill="#fff" stroke="#888" stroke-width="1"/>
<line x1="403.8" y1="544" x2="415" y2="544" stroke="#888" stroke-width="1" />
<line x1="404.8" y1="528" x2="404.8" y2="557" stroke="#aaa" stroke-width="1" />
<rect x="415" y="527.2" width="8.4" height="30.4" fill="#fff" stroke="#888" stroke-width="1"/>
<line x1="415" y1="527.2" x2="441" y2="527.2" stroke="#888" stroke-width="1" />
<rect x="416.6" y="528" width="12" height="3.2" fill="#fff" stroke="#888" stroke-width="0.8"/>
<path d="M429,528.3 Q431,527 433,528.3 Q435,527 437,528.3 Q439,527 441,529" fill="none" stroke="#666" stroke-width="0.8"/>
<path d="M429,530.5 Q431,529 433,530.5 Q435,529 437,530.5 Q439,529 441,531" fill="none" stroke="#666" stroke-width="0.8"/>
<rect x="423.8" y="531.6" width="62.8" height="7.1" fill="#d2fefe" stroke="#a0cccc" stroke-width="0.6"/>
<path d="M422.3,537.2 L424.6,539.8 M426.8,537.2 L429.1,539.8 M431.4,537.2 L433.7,539.8 M436.3,537.2 L438.6,539.8" stroke="#333" stroke-width="1"/>
<rect x="421.4" y="540.6" width="19.8" height="17" fill="#fff" stroke="#999" stroke-width="0.9"/>
<line x1="423.4" y1="541" x2="423.4" y2="557.6" stroke="#aaa" stroke-width="0.9" />
<rect x="424.8" y="541.6" width="6.5" height="2.4" fill="#fff" stroke="#999" stroke-width="0.8"/>
<path d="M431.5,543 L434,540.8 M436,543 L438.5,540.8" stroke="#777" stroke-width="0.8"/>
<ellipse cx="435" cy="545.8" rx="3.8" ry="1.5" fill="#b5b5b5" stroke="#555" stroke-width="0.8"/>
<ellipse cx="434" cy="555.6" rx="5" ry="1.5" fill="#b5b5b5" stroke="#555" stroke-width="0.8"/>
<path d="M426.6,545.5 Q436.5,551 426.6,556.5 Z" fill="#bbb" stroke="#555" stroke-width="0.8"/>
<line x1="426.4" y1="545.5" x2="426.4" y2="556.5" stroke="#333" stroke-width="1.3" />
<line x1="424.6" y1="551.4" x2="429" y2="551.4" stroke="#fff" stroke-width="1.1" />
<path d="M431,547.2 L427.5,548.5" stroke="#555" stroke-width="0.8"/>
<path d="M387.4,535.4 L390,534.1 L403.8,534.1 L403.8,536.7 L390,536.7 Z" fill="#333"/>
<path d="M403.8,532.5 Q407.5,532.8 407.5,535.4 Q407.5,538 403.8,538.3" fill="#ddd" stroke="#777" stroke-width="0.7"/>
<path d="M403.8,557.6 L427.8,557.6 L427.8,561.6 L435,561.6 L435,571.2 L403.8,571.2 Z" fill="#fff" stroke="#888" stroke-width="0.9"/>
<circle cx="421.4" cy="565.2" r="3.9" fill="#fff" stroke="#888" stroke-width="0.9"/>
<path d="M435,560 L478,560 L479,564.6 L478,569.7 L435,569.7" fill="#fff" stroke="#888" stroke-width="0.9"/>
<line x1="435" y1="564.5" x2="479" y2="564.5" stroke="#888" stroke-width="0.9" />
<line x1="415" y1="557.6" x2="415" y2="586" stroke="#777" stroke-width="0.9" />
<line x1="423.4" y1="557.6" x2="423.4" y2="586" stroke="#777" stroke-width="0.9" />
<line x1="441.4" y1="541" x2="441.4" y2="600" stroke="#777" stroke-width="0.9" />
<line x1="404" y1="573.8" x2="404" y2="600" stroke="#777" stroke-width="0.9" />
<line x1="409.6" y1="584.6" x2="428.2" y2="584.6" stroke="#666" stroke-width="0.9" />
<path d="M414.80,584.60 L410.80,585.90 L410.80,583.30 Z" fill="#333"/>
<path d="M423.60,584.60 L427.60,583.30 L427.60,585.90 Z" fill="#333"/>
<text x="432.7" y="579.2" font-family="Liberation Sans" font-size="8.5" font-weight="bold" text-anchor="middle" dominant-baseline="central" fill="#111" stroke="#111" stroke-width="0.17" textLength="15" lengthAdjust="spacingAndGlyphs">0-15</text>
<line x1="404.5" y1="597.8" x2="441" y2="597.8" stroke="#666" stroke-width="0.9" />
<path d="M404.50,597.80 L408.50,596.50 L408.50,599.10 Z" fill="#333"/>
<path d="M441.00,597.80 L437.00,599.10 L437.00,596.50 Z" fill="#333"/>
<text x="422.8" y="593.3" font-family="Liberation Sans" font-size="8.5" font-weight="bold" text-anchor="middle" dominant-baseline="central" fill="#111" stroke="#111" stroke-width="0.17" textLength="10" lengthAdjust="spacingAndGlyphs">42</text>
<line x1="441" y1="526.6" x2="508" y2="526.6" stroke="#888" stroke-width="0.9" />
<line x1="487.7" y1="531.4" x2="517" y2="531.4" stroke="#888" stroke-width="0.9" />
<line x1="487.7" y1="538.6" x2="517" y2="538.6" stroke="#888" stroke-width="0.9" />
<line x1="506.5" y1="510" x2="506.5" y2="538.6" stroke="#666" stroke-width="0.9" />
<path d="M506.50,526.30 L505.30,522.80 L507.70,522.80 Z" fill="#333"/>
<path d="M506.50,531.70 L507.70,535.20 L505.30,535.20 Z" fill="#333"/>
<path d="M506.50,538.30 L505.30,534.80 L507.70,534.80 Z" fill="#333"/>
<text x="503" y="518" font-family="Liberation Sans" font-size="8.5" font-weight="bold" text-anchor="middle" dominant-baseline="central" fill="#111" stroke="#111" stroke-width="0.17" transform="rotate(-90 503 518)" textLength="5" lengthAdjust="spacingAndGlyphs">6</text>
<line x1="515.7" y1="523" x2="515.7" y2="553.7" stroke="#666" stroke-width="0.9" />
<path d="M515.70,531.10 L514.50,527.60 L516.90,527.60 Z" fill="#333"/>
<path d="M515.70,538.90 L516.90,542.40 L514.50,542.40 Z" fill="#333"/>
<text x="511.7" y="548.3" font-family="Liberation Sans" font-size="8.5" font-weight="bold" text-anchor="middle" dominant-baseline="central" fill="#111" stroke="#111" stroke-width="0.17" transform="rotate(-90 511.7 548.3)" textLength="5" lengthAdjust="spacingAndGlyphs">8</text>
<path d="M696.3,488.6 L696.3,473 Q696.6,470.2 699.5,470.4 Q704.2,471.2 705.7,474.8 L705.7,488.6 Z" fill="#d2fefe" stroke="#a0cccc" stroke-width="0.7"/>
<path d="M680.7,492.3 L656.7,492.3 L657.3,496.3 L650,502.3 L654,513 L652.7,519 L680.7,519" fill="#fff" stroke="#777" stroke-width="0.9"/>
<rect x="680.7" y="488.6" width="30.6" height="33.7" fill="#fff" stroke="#888" stroke-width="1"/>
<path d="M681,492.3 L694,492.3 L694,519 L681,519" fill="none" stroke="#888" stroke-width="0.9" stroke-dasharray="4,2.5"/>
<circle cx="685" cy="496" r="1.4" fill="#fff" stroke="#555" stroke-width="0.8"/>
<circle cx="685" cy="515.4" r="1.4" fill="#fff" stroke="#555" stroke-width="0.8"/>
<line x1="693.7" y1="460.3" x2="693.7" y2="487.5" stroke="#777" stroke-width="0.9" />
<line x1="710.3" y1="460.3" x2="710.3" y2="487.5" stroke="#777" stroke-width="0.9" />
<line x1="693.7" y1="463.7" x2="736" y2="463.7" stroke="#888" stroke-width="0.9" />
<path d="M694.20,463.70 L698.20,462.40 L698.20,465.00 Z" fill="#333"/>
<path d="M709.80,463.70 L705.80,465.00 L705.80,462.40 Z" fill="#333"/>
<text x="723" y="460.2" font-family="Liberation Sans" font-size="8.5" font-weight="bold" text-anchor="middle" dominant-baseline="central" fill="#111" stroke="#111" stroke-width="0.17" textLength="18" lengthAdjust="spacingAndGlyphs">0-20</text>
<line x1="713" y1="488.6" x2="731" y2="488.6" stroke="#888" stroke-width="0.9" />
<line x1="713" y1="522.3" x2="731" y2="522.3" stroke="#888" stroke-width="0.9" />
<line x1="728" y1="489.2" x2="728" y2="521.7" stroke="#666" stroke-width="0.9" />
<path d="M728.00,489.20 L729.30,493.20 L726.70,493.20 Z" fill="#333"/>
<path d="M728.00,521.70 L726.70,517.70 L729.30,517.70 Z" fill="#333"/>
<text x="723.3" y="505.7" font-family="Liberation Sans" font-size="8.5" font-weight="bold" text-anchor="middle" dominant-baseline="central" fill="#111" stroke="#111" stroke-width="0.17" transform="rotate(-90 723.3 505.7)" textLength="10" lengthAdjust="spacingAndGlyphs">38</text>
<path d="M693.3,544 L709.6,544 L709.6,570.7 L678.7,570.7 L678.7,558.7 L690,558.7 L693.3,556 Z" fill="#fff" stroke="#888" stroke-width="0.9"/>
<circle cx="701.6" cy="563.3" r="4" fill="#fff" stroke="#888" stroke-width="0.9"/>
<rect x="696.7" y="522.3" width="8.9" height="31.7" fill="#d2fefe" stroke="#a0cccc" stroke-width="0.7"/>
<path d="M694.5,545 L694.5,555.5 L707.5,555.5 L707.5,545" fill="none" stroke="#777" stroke-width="0.9"/>
<path d="M654,546.7 L678.7,546.7 L678.7,554 L654,554 L657.5,550.3 Z" fill="#d2fefe" stroke="#a0cccc" stroke-width="0.7"/>
<path d="M667,546 Q672,545 678,546 L678,555 Q672,556 667,555" fill="none" stroke="#888" stroke-width="0.8"/>
<rect x="679" y="545.3" width="8" height="10" fill="#fff" stroke="#777" stroke-width="0.9"/>
<rect x="684" y="544.3" width="4.5" height="12" fill="#fff" stroke="#555" stroke-width="0.9"/>
<line x1="686.2" y1="545" x2="686.2" y2="556" stroke="#555" stroke-width="0.8" />
<path d="M688.5,546 L692,547 L692,554 L688.5,556" fill="none" stroke="#777" stroke-width="0.8"/>
<path d="M650.7,559.3 L678.7,559.3 L678.7,569.3 L653.5,569.3 Z" fill="#fff" stroke="#888" stroke-width="0.9"/>
<line x1="652" y1="564.5" x2="678.7" y2="564.5" stroke="#999" stroke-width="0.9" />
<line x1="712" y1="544" x2="731" y2="544" stroke="#888" stroke-width="0.9" />
<line x1="712" y1="570.7" x2="731" y2="570.7" stroke="#888" stroke-width="0.9" />
<line x1="728.3" y1="544.6" x2="728.3" y2="570.1" stroke="#666" stroke-width="0.9" />
<path d="M728.30,544.60 L729.60,548.60 L727.00,548.60 Z" fill="#333"/>
<path d="M728.30,570.10 L727.00,566.10 L729.60,566.10 Z" fill="#333"/>
<text x="723.7" y="557.7" font-family="Liberation Sans" font-size="8.5" font-weight="bold" text-anchor="middle" dominant-baseline="central" fill="#111" stroke="#111" stroke-width="0.17" transform="rotate(-90 723.7 557.7)" textLength="10" lengthAdjust="spacingAndGlyphs">30</text>
<line x1="678.7" y1="573" x2="678.7" y2="591" stroke="#777" stroke-width="0.9" />
<line x1="709.6" y1="573" x2="709.6" y2="591" stroke="#777" stroke-width="0.9" />
<line x1="679.3" y1="589" x2="709" y2="589" stroke="#666" stroke-width="0.9" />
<path d="M679.30,589.00 L683.30,587.70 L683.30,590.30 Z" fill="#333"/>
<path d="M709.00,589.00 L705.00,590.30 L705.00,587.70 Z" fill="#333"/>
<text x="694.4" y="584.7" font-family="Liberation Sans" font-size="8.5" font-weight="bold" text-anchor="middle" dominant-baseline="central" fill="#111" stroke="#111" stroke-width="0.17" textLength="10" lengthAdjust="spacingAndGlyphs">35</text>
</svg>
</body></html>
